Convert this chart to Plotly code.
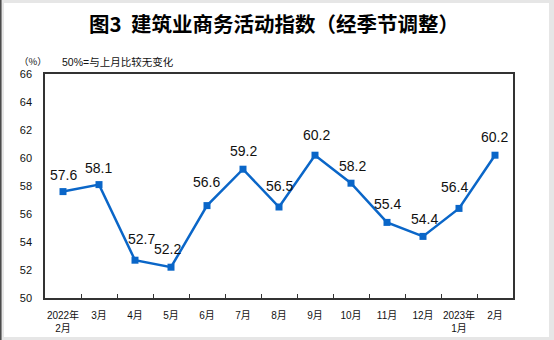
import plotly.graph_objects as go

# ---- data ----
categories = ["2022年<br>2月", "3月", "4月", "5月", "6月", "7月", "8月", "9月",
              "10月", "11月", "12月", "2023年<br>1月", "2月"]
values = [57.6, 58.1, 52.7, 52.2, 56.6, 59.2, 56.5, 60.2, 58.2, 55.4, 54.4, 56.4, 60.2]
y_ticks = [50, 52, 54, 56, 58, 60, 62, 64, 66]

# label nudges (pixels) to mimic the reference placement
label_dx = [0, -1, 6, -4, -1, 0, 0, 1, 1, 0, 1, -5, -1]
label_dy = [17, 17, 21, 18, 24, 18, 21, 20, 17, 18, 17, 21, 18]

W_PX, H_PX = 554, 340
L, R, T, B = 45, 41, 74, 42
PW, PH = W_PX - L - R, H_PX - T - B

def px(x):
    return (x - L) / PW

def py(y):
    return (H_PX - B - y) / PH

FONT = "Liberation Sans, Arial, Noto Sans CJK SC, sans-serif"
LINE_COLOR = "#0A66C8"

fig = go.Figure()
fig.add_trace(go.Scatter(
    x=categories, y=values, mode="lines+markers",
    line=dict(color=LINE_COLOR, width=2.5),
    marker=dict(symbol="square", size=7, color=LINE_COLOR),
    hoverinfo="skip", showlegend=False,
))

annotations = []
for c, v, dx, dy in zip(categories, values, label_dx, label_dy):
    annotations.append(dict(
        x=c, y=v, xref="x", yref="y", text=f"{v:.1f}", showarrow=False,
        xshift=dx, yshift=dy, xanchor="center", yanchor="middle",
        font=dict(family=FONT, size=14, color="#111111"),
    ))

annotations.append(dict(
    x=px(274), y=py(23), xref="paper", yref="paper",
    text="<b>图3  建筑业商务活动指数（经季节调整）</b>", showarrow=False,
    xanchor="center", yanchor="middle",
    font=dict(family="Noto Sans CJK SC, sans-serif", size=20.5, color="#000000"),
))
annotations.append(dict(
    x=px(17), y=py(61), xref="paper", yref="paper",
    text="（%）", showarrow=False, xanchor="left", yanchor="middle",
    font=dict(family="Noto Sans CJK SC, sans-serif", size=9.5, color="#111111"),
))
annotations.append(dict(
    x=px(60), y=py(62), xref="paper", yref="paper",
    text="50%=与上月比较无变化", showarrow=False, xanchor="left", yanchor="middle",
    font=dict(family=FONT, size=10.5, color="#111111"),
))

shapes = [
    dict(type="rect", xref="paper", yref="paper", layer="below",
         x0=px(4), x1=px(549), y0=py(337), y1=py(3),
         fillcolor="white", line=dict(width=0)),
    dict(type="line", xref="paper", yref="paper", layer="below",
         x0=px(0.8), x1=px(0.8), y0=py(340), y1=py(0),
         line=dict(color="#444444", width=1.5)),
]

fig.update_layout(
    width=W_PX, height=H_PX,
    margin=dict(l=L, r=R, t=T, b=B, pad=0, autoexpand=False),
    paper_bgcolor="#e6e6e6", plot_bgcolor="white",
    annotations=annotations, shapes=shapes,
    font=dict(family=FONT, color="#111111"),
)
fig.update_xaxes(
    type="category", tickson="boundaries", ticks="inside", ticklen=4,
    tickcolor="#333333", tickwidth=1, tickangle=0, automargin=False,
    showline=True, linecolor="#333333", linewidth=1.5, mirror=True,
    showgrid=False, zeroline=False,
    tickfont=dict(family=FONT, size=10, color="#111111"),
    ticklabelstandoff=7, range=[-0.5, len(categories) - 0.5],
)
fig.update_yaxes(
    range=[50, 66], tickvals=y_ticks, ticktext=[str(t) for t in y_ticks],
    ticks="", showline=True, linecolor="#333333", linewidth=1.5, mirror=True,
    showgrid=False, zeroline=False, automargin=False,
    tickfont=dict(family=FONT, size=11, color="#111111"),
    ticklabelstandoff=9,
)

fig.write_html("out.html")
